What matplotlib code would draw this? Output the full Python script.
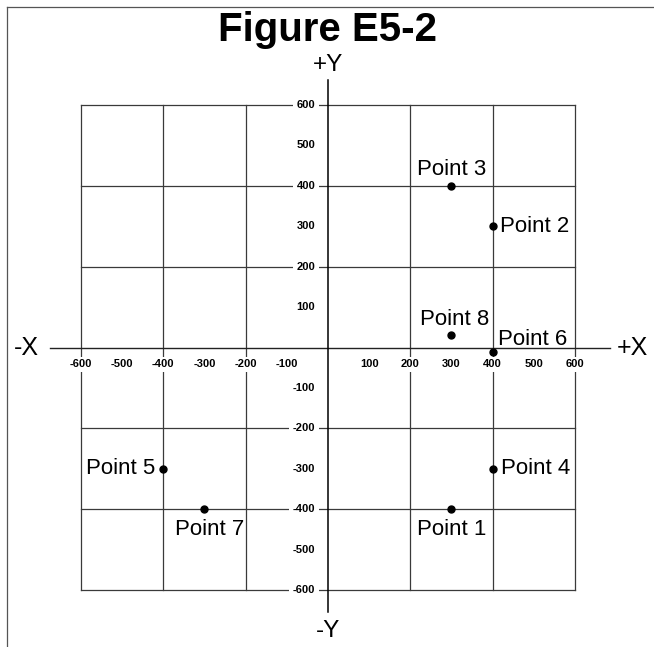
import matplotlib
matplotlib.use('Agg')
import matplotlib.pyplot as plt
from matplotlib.lines import Line2D

plt.rcParams['font.family'] = ['Liberation Sans', 'DejaVu Sans']

# data
point_names = ['Point 1', 'Point 2', 'Point 3', 'Point 4',
               'Point 5', 'Point 6', 'Point 7', 'Point 8']
point_x = [300, 400, 300, 400, -400, 400, -300, 300]
point_y = [-400, 300, 400, -300, -300, -10, -400, 30]
tick_vals = [-600, -500, -400, -300, -200, -100, 100, 200, 300, 400, 500, 600]
grid_vals = [-600, -400, -200, 200, 400, 600]

# label placement (offset in points, alignment)
label_pos = [((0, -7), 'center', 'top'),
             ((5, 0), 'left', 'center'),
             ((0, 4), 'center', 'bottom'),
             ((6, 0), 'left', 'center'),
             ((-6, 0), 'right', 'center'),
             ((4, 9), 'left', 'center'),
             ((4, -7), 'center', 'top'),
             ((2, 4), 'center', 'bottom')]

fig = plt.figure(figsize=(6.54, 6.47), dpi=100)
ax = fig.add_axes([0, 0, 1, 1])
ax.set_xlim(-796.7, 791.9)
ax.set_ylim(-741.1, 859.9)
ax.axis('off')

gc = '#3a3a3a'
for v in grid_vals:
    ax.plot([v, v], [-600, 600], color=gc, lw=0.9, zorder=1)
    ax.plot([-600, 600], [v, v], color=gc, lw=0.9, zorder=1)

# axes lines
ax.plot([-675, 685], [0, 0], color='#222222', lw=1.0, zorder=2)
ax.plot([0, 0], [-655, 662], color='black', lw=1.1, zorder=2)

# tick labels
for v in tick_vals:
    ax.text(v, -42, str(v), ha='center', va='center', fontsize=8,
            fontweight='bold', zorder=3,
            bbox=dict(facecolor='white', edgecolor='none', pad=1.5))
    ax.text(-31, v, str(v), ha='right', va='center', fontsize=8,
            fontweight='bold', zorder=3,
            bbox=dict(facecolor='white', edgecolor='none', pad=2.5))

# axis names
ax.text(0, 700, '+Y', ha='center', va='center', fontsize=17.5)
ax.text(0, -702, '-Y', ha='center', va='center', fontsize=17.5)
ax.text(-733, 0, '-X', ha='center', va='center', fontsize=18)
ax.text(740, 0, '+X', ha='center', va='center', fontsize=18)

# points
ax.plot(point_x, point_y, 'o', color='black', ms=5, zorder=4)
for name, x, y, (off, ha, va) in zip(point_names, point_x, point_y, label_pos):
    ax.annotate(name, (x, y), xytext=off, textcoords='offset points',
                ha=ha, va=va, fontsize=16, zorder=4)

fig.text(328 / 654, 1 - 30 / 647, 'Figure E5-2', ha='center', va='center',
         fontsize=29, fontweight='bold')

# frame (top and left)
fig.add_artist(Line2D([7 / 654, 1], [1 - 7 / 647] * 2, color='#555555', lw=0.9))
fig.add_artist(Line2D([7 / 654] * 2, [0, 1 - 7 / 647], color='#555555', lw=0.9))

fig.savefig('out.png', dpi=100)
